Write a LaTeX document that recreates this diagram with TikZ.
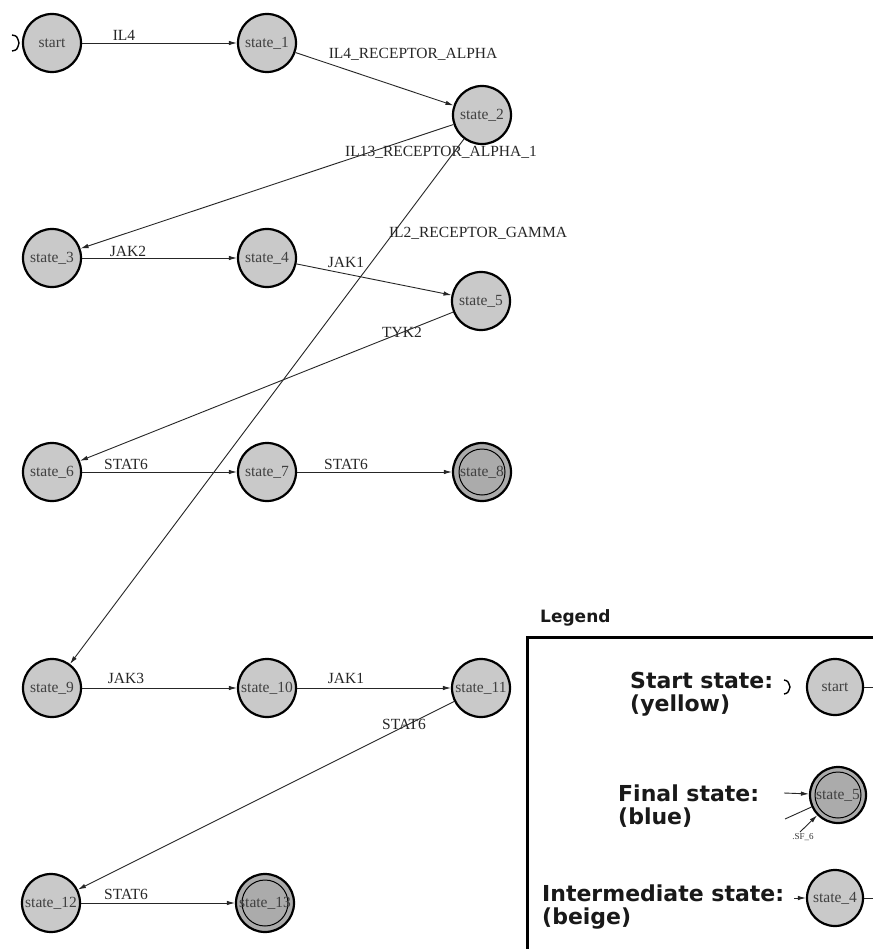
\documentclass[tikz,border=0pt]{standalone}
\usepackage{fontspec}
\setmainfont{Liberation Serif}
\newfontfamily\legendfont{DejaVu Sans}
\usetikzlibrary{arrows.meta}

\begin{document}
\begin{tikzpicture}[x=1pt,y=-1pt,
  every node/.style={font=\rmfamily\fontsize{15.5}{18}\selectfont},
  state/.style={circle,draw=black,line width=2.2pt,fill=black!21,
    minimum size=58pt,inner sep=0pt,text=black!75},
  final/.style={state,fill=black!33,
    path picture={\draw[line width=1pt] (path picture bounding box.center) circle[radius=23pt];}},
  trans/.style={draw=black!85,line width=0.9pt,-{Latex[length=8pt,width=4.5pt]}},
  plain/.style={draw=black!85,line width=0.9pt},
  lbl/.style={text=black!85,inner sep=0pt},
  marker/.style={draw=black,line width=1.4pt},
  legtext/.style={font=\legendfont\bfseries\fontsize{22}{23}\selectfont,
    align=left,inner sep=0pt,anchor=north west,text=black!90},
  tinylbl/.style={font=\rmfamily\fontsize{9}{10}\selectfont,inner sep=0pt,text=black!80}
]
\useasboundingbox (0,0) rectangle (873,949);
\fill[white] (0,0) rectangle (873,949);

% states
\node[state] (start) at (52,43)  {start};
\node[state] (s1)  at (267,43)  {state\_1};
\node[state] (s2)  at (482,115) {state\_2};
\node[state] (s3)  at (52,258)  {state\_3};
\node[state] (s4)  at (267,258) {state\_4};
\node[state] (s5)  at (481,301) {state\_5};
\node[state] (s6)  at (52,472)  {state\_6};
\node[state] (s7)  at (267,472) {state\_7};
\node[final] (s8)  at (482,472) {state\_8};
\node[state] (s9)  at (52,688)  {state\_9};
\node[state] (s10) at (267,688) {state\_10};
\node[state] (s11) at (481,688) {state\_11};
\node[state] (s12) at (51,903)  {state\_12};
\node[final] (s13) at (265,903) {state\_13};

% start marker
\draw[marker] (12,35) .. controls (17,36) .. (19,43) .. controls (17,50) .. (12,51);

% transitions
\draw[trans] (start) -- (s1);
\draw[trans] (s1) -- (s2);
\draw[trans] (s2) -- (s3);
\draw[trans] (s2) -- (s9);
\draw[trans] (s3) -- (s4);
\draw[trans] (s4) -- (s5);
\draw[trans] (s5) -- (s6);
\draw[trans] (s6) -- (s7);
\draw[trans] (s7) -- (s8);
\draw[trans] (s9) -- (s10);
\draw[trans] (s10) -- (s11);
\draw[trans] (s11) -- (s12);
\draw[trans] (s12) -- (s13);

% transition labels
\node[lbl] (l1)  at (124,35)  {IL4};
\node[lbl] (l2)  at (413,54)  {IL4\_RECEPTOR\_ALPHA};
\node[lbl] (l3)  at (441,152) {IL13\_RECEPTOR\_ALPHA\_1};
\node[lbl] (l4)  at (478,233) {IL2\_RECEPTOR\_GAMMA};
\node[lbl] (l5)  at (128,251) {JAK2};
\node[lbl] (l6)  at (346,262) {JAK1};
\node[lbl] (l7)  at (402,332) {TYK2};
\node[lbl] (l8)  at (126,464) {STAT6};
\node[lbl] (l9)  at (346,464) {STAT6};
\node[lbl] (l10) at (126,678) {JAK3};
\node[lbl] (l11) at (346,678) {JAK1};
\node[lbl] (l12) at (404,724) {STAT6};
\node[lbl] (l13) at (126,894) {STAT6};

% legend
\node[legtext,font=\legendfont\bfseries\fontsize{17}{20}\selectfont,anchor=west] (legtitle) at (540,618) {Legend};
\draw[line width=3pt] (873,637) -- (527,637) -- (527,949);

\node[legtext] (t1) at (630,672) {Start state:\\(yellow)};
\node[legtext] (t2) at (618,785) {Final state:\\(blue)};
\node[legtext] (t3) at (542,885) {Intermediate state:\\(beige)};

\node[state,minimum size=56pt] (ls) at (835,687) {start};
\node[final,minimum size=56pt] (lf) at (838,795) {state\_5};
\node[state,minimum size=56pt] (li) at (835,898) {state\_4};

\draw[marker] (784,680) .. controls (788,681) .. (790,687) .. controls (788,693) .. (784,694);
\coordinate (lsout) at (873,687);
\draw[plain] (ls) -- (lsout);

\coordinate (lfin) at (784,793);
\coordinate (lfa) at (785,819);
\coordinate (lfb) at (800,832);
\draw[trans] (lfin) -- (lf);
\draw[plain] (lf) -- (lfa);
\draw[trans] (lfb) -- (lf);
\node[tinylbl] (lfl) at (803,837) {.SF\_6};

\coordinate (liin) at (794,898);
\coordinate (liout) at (873,898);
\draw[trans] (liin) -- (li);
\draw[plain] (li) -- (liout);
\end{tikzpicture}
\end{document}
